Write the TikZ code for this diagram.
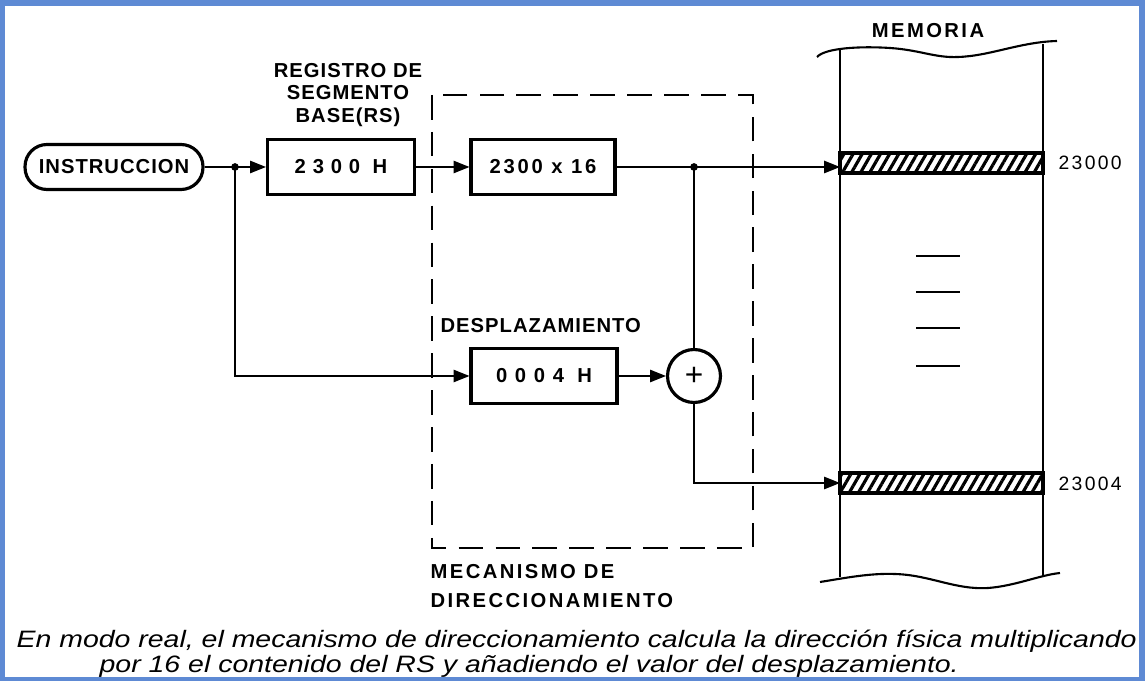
\documentclass[tikz,border=0pt]{standalone}
\usepackage{fontspec}
\setmainfont{Liberation Sans}
\newfontfamily\lblfont[LetterSpace=5]{Liberation Sans}
\newfontfamily\numfont{Liberation Sans}
\newfontfamily\capfont[FakeStretch=1.2]{Liberation Sans}
\usetikzlibrary{arrows.meta,patterns.meta}
\definecolor{frameblue}{RGB}{94,138,212}

\begin{document}
\begin{tikzpicture}[x=0.02cm,y=-0.02cm,line width=0.9pt,
  >={Triangle[length=9pt,width=7pt]},
  lbl/.style={font=\lblfont\bfseries\fontsize{11.5}{13}\selectfont},
  reg/.style={draw,line width=1.8pt,minimum width=2.94cm,minimum height=1.1cm,inner sep=0pt},
  nums/.style={font={\numfont\bfseries\fontsize{11.5}{13}\selectfont\addfontfeature{LetterSpace=#1}}},
  addr/.style={anchor=west,font={\numfont\fontsize{11}{12}\selectfont\addfontfeature{LetterSpace=12}}},
  cell/.style={line width=2pt,pattern={Lines[angle=60,distance=4.5pt,line width=1.8pt]}},
  mech/.style={line width=1.3pt,dash pattern=on 14pt off 7pt},
  capt/.style={anchor=base west,font=\capfont\itshape\fontsize{13.5}{15}\selectfont}]
\fill[frameblue] (0,0) rectangle (1145,681);
\fill[white] (5,6) rectangle (1139,677);

\node[draw,line width=1.8pt,rounded corners=0.44cm,minimum width=3.56cm,minimum height=0.9cm,lbl] (instr) at (114,167) {INSTRUCCION};
\node[reg,nums=34] (rs) at (341,167) {2300 H};
\node[reg,nums=14,minimum width=2.88cm] (mult) at (543,167) {2300 x 16};
\node[reg,nums=38,minimum width=2.92cm] (desp) at (544,376) {0004 H};
\node[draw,circle,line width=1.8pt,minimum size=1.06cm,inner sep=0pt,font=\fontsize{18}{18}\selectfont] (add) at (694,376) {+};

\node[lbl,align=center] (rslbl) at (348,95) {REGISTRO DE\\SEGMENTO\\BASE(RS)};
\node[lbl,anchor=west] (desplbl) at (434,326) {DESPLAZAMIENTO};
\node[lbl,align=left,anchor=west,font=\lblfont\bfseries\fontsize{11.5}{16}\selectfont\addfontfeature{LetterSpace=12}] (mechlbl) at (424,586) {MECANISMO DE\\DIRECCIONAMIENTO};
\node[lbl,font=\lblfont\bfseries\fontsize{11.5}{13}\selectfont\addfontfeature{LetterSpace=12}] (memlbl) at (928,31) {MEMORIA};

\draw[mech] (432,95) rectangle (753,548);

% memoria
\draw[line width=1.2pt] (840,49) -- (840,577);
\draw[line width=1.2pt] (1043,44) -- (1043,577);
\draw[line width=1.2pt] (817,57) .. controls (825,48) and (860,46) .. (890,48) .. controls (920,50) and (935,58) .. (958,57) .. controls (990,56) and (1020,42) .. (1057,41);
\draw[line width=1.2pt] (820,582) .. controls (845,578) and (870,573) .. (895,574) .. controls (930,575) and (955,590) .. (988,588) .. controls (1015,586) and (1040,575) .. (1060,573);
\draw[cell] (840,153) rectangle (1043,173);
\draw[cell] (840,473) rectangle (1043,493);
\foreach \y in {256,292,328,366}
  \draw[line width=1.4pt] (916,\y) -- (960,\y);
\node[addr] (a0) at (1052,163) {23000};
\node[addr] (a4) at (1052,484) {23004};

\coordinate (j1) at (235,167);
\coordinate (j2) at (694,167);
\coordinate (m0) at (840,167);
\coordinate (m4) at (840,483);
\draw (instr.east) -- (j1);
\draw[->] (j1) -- (rs.west);
\draw[->] (j1) |- (desp.west);
\draw[->] (rs.east) -- (mult.west);
\draw[->] (mult.east) -- (m0);
\draw (j2) -- (add.north);
\draw[->] (desp.east) -- (add.west);
\draw[->] (add.south) |- (m4);
\fill (j1) circle (2.2pt);
\fill (j2) circle (2.2pt);

\node[capt] (cap1) at (10,647) {En modo real, el mecanismo de direccionamiento calcula la dirección física multiplicando};
\node[capt] (cap2) at (93,672) {por 16 el contenido del RS y añadiendo el valor del desplazamiento.};
\end{tikzpicture}
\end{document}
